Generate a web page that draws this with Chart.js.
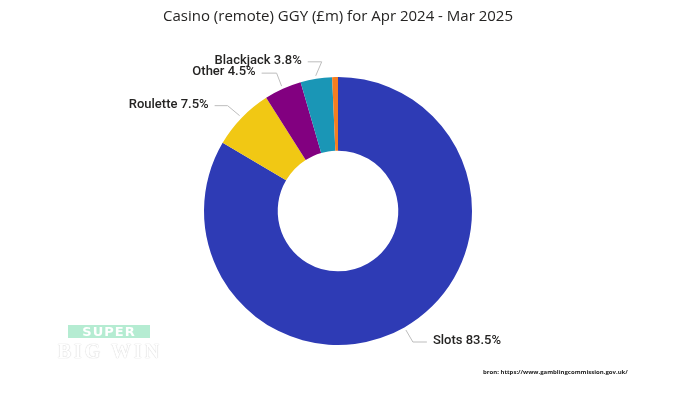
<!DOCTYPE html>
<html>
<head>
<meta charset="utf-8">
<script src="https://cdn.jsdelivr.net/npm/chart.js@4/dist/chart.umd.min.js"></script>
<style>
  html, body { margin: 0; padding: 0; background: #fff; }
  #wrap { position: relative; width: 700px; height: 394px; }
  #logo-super {
    position: absolute; left: 68px; top: 325px; width: 82px; height: 13px;
    background: #b5ecd2; color: #fff; font: bold 13px "DejaVu Sans", sans-serif;
    text-align: center; line-height: 13px; letter-spacing: 1px;
  }
  #logo-big {
    position: absolute; left: 48px; top: 340px; width: 124px;
    color: #fff; font: bold 20px "Liberation Serif", serif; letter-spacing: 3px;
    text-shadow: 0 0 1px #d0d0d0, 0 0 1px #d0d0d0; text-align: center;
  }
  #source {
    position: absolute; left: 483px; top: 368px;
    font: bold 6px "Open Sans", sans-serif; color: #222;
  }
</style>
</head>
<body>
<div id="wrap">
  <canvas id="gameChart" width="700" height="394"></canvas>
  <div id="logo-super">SUPER</div>
  <div id="logo-big">BIG WIN</div>
  <div id="source">bron: https://www.gamblingcommission.gov.uk/</div>
</div>
<script>
const games = ['Slots', 'Roulette', 'Other', 'Blackjack', '(unlabelled)'];
const shares = [83.5, 7.5, 4.5, 3.8, 0.7];
const showLabel = [true, true, true, true, false];
const colours = ['#2e3bb5', '#f1c814', '#820080', '#1a96b6', '#f57e20'];

// leader line shape per slice: elbow offset from the ring and horizontal run
const leaders = [
  { dx: 7, dy: 12, run: 14 },
  { dx: -12, dy: -10, run: -13 },
  { dx: -5, dy: -13, run: -15 },
  { dx: 6, dy: -14, run: -14 },
  null
];

const sliceLabels = {
  id: 'sliceLabels',
  afterDatasetsDraw(chart) {
    const ctx = chart.ctx;
    const meta = chart.getDatasetMeta(0);
    ctx.save();
    ctx.font = '500 13px Roboto, sans-serif';
    ctx.textBaseline = 'middle';
    meta.data.forEach((arc, i) => {
      if (!showLabel[i] || !leaders[i]) return;
      const p = arc.getProps(['x', 'y', 'startAngle', 'endAngle', 'outerRadius'], true);
      const mid = (p.startAngle + p.endAngle) / 2;
      const r = p.outerRadius + 3;
      const sx = p.x + Math.cos(mid) * r;
      const sy = p.y + Math.sin(mid) * r;
      const l = leaders[i];
      const ex = sx + l.dx, ey = sy + l.dy;
      const tx = ex + l.run;
      ctx.strokeStyle = '#bdbdbd';
      ctx.lineWidth = 1;
      ctx.beginPath();
      ctx.moveTo(sx, sy);
      ctx.lineTo(ex, ey);
      ctx.lineTo(tx, ey);
      ctx.stroke();
      ctx.fillStyle = '#252423';
      ctx.textAlign = l.run > 0 ? 'left' : 'right';
      const text = games[i] + ' ' + shares[i].toFixed(1) + '%';
      ctx.fillText(text, tx + (l.run > 0 ? 6 : -6), ey - 1);
    });
    ctx.restore();
  }
};

const ctx = document.getElementById('gameChart').getContext('2d');

const chart = new Chart(ctx, {
  type: 'doughnut',
  data: {
    labels: games,
    datasets: [{
      data: shares,
      backgroundColor: colours,
      borderWidth: 0
    }]
  },
  options: {
    responsive: false,
    animation: false,
    cutout: '45%',
    layout: { padding: { left: 0, right: 24, top: 0, bottom: 49 } },
    plugins: {
      legend: { display: false },
      tooltip: { enabled: false },
      title: {
        display: true,
        text: 'Casino (remote) GGY (£m) for Apr 2024 - Mar 2025',
        color: '#252423',
        font: { family: '"Open Sans", sans-serif', size: 15, weight: 'normal', lineHeight: 1.2 },
        padding: { top: 8, bottom: 51 }
      }
    }
  },
  plugins: [sliceLabels]
});
</script>
</body>
</html>
